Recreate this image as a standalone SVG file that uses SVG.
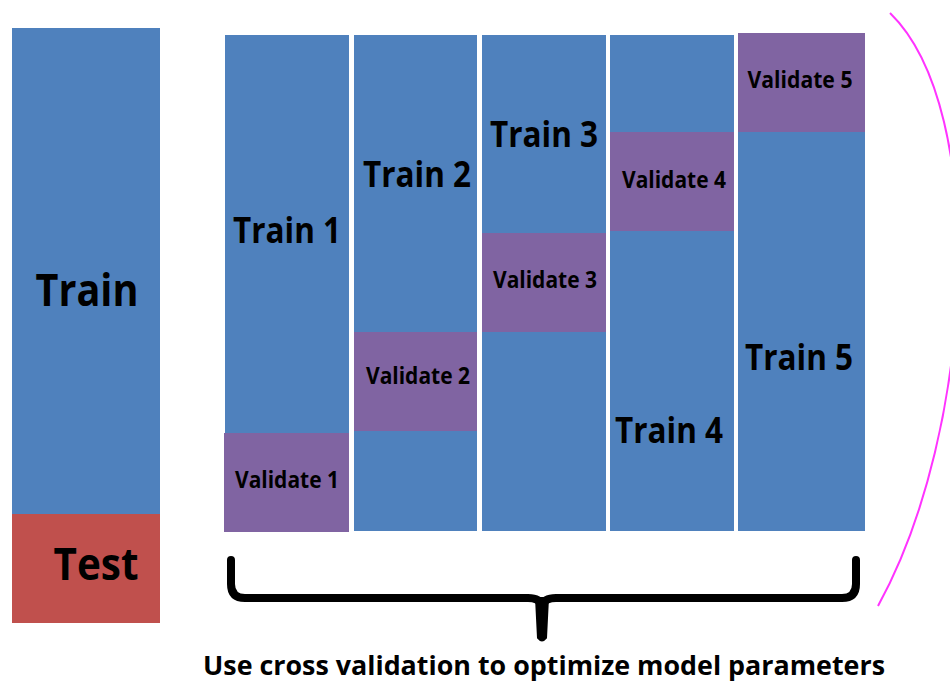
<svg xmlns="http://www.w3.org/2000/svg" width="950" height="683" viewBox="0 0 950 683">
  <style>
    .train { fill: #4F81BD; }
    .val { fill: #8064A2; }
    .test { fill: #C0504D; }
    text { font-family: "Open Sans", Lato, "Liberation Sans", sans-serif; font-weight: bold; fill: #000; text-anchor: middle; }
    .big { font-size: 44px; }
    .mid { font-size: 35px; }
    .small { font-size: 23px; }
    .cap { font-size: 27px; }
  </style>
  <rect width="950" height="683" fill="#ffffff"/>

  <!-- hold-out split -->
  <g id="holdout">
    <rect class="train" x="12" y="28" width="148" height="487"/>
    <rect class="test" x="12" y="514" width="148" height="109"/>
    <text class="big" x="87" y="306" textLength="103" lengthAdjust="spacingAndGlyphs">Train</text>
    <text class="big" x="96" y="580" textLength="85" lengthAdjust="spacingAndGlyphs">Test</text>
  </g>

  <!-- fold 1 -->
  <g id="fold1">
    <rect class="train" x="225" y="35" width="124" height="398"/>
    <rect class="val" x="224" y="433" width="125" height="99"/>
    <text class="mid" x="287" y="243" textLength="108" lengthAdjust="spacingAndGlyphs">Train 1</text>
    <text class="small" x="287" y="488" textLength="104" lengthAdjust="spacingAndGlyphs">Validate 1</text>
  </g>

  <!-- fold 2 -->
  <g id="fold2">
    <rect class="train" x="354" y="35" width="123" height="496"/>
    <rect class="val" x="354" y="332" width="123" height="99"/>
    <text class="mid" x="417" y="187" textLength="108" lengthAdjust="spacingAndGlyphs">Train 2</text>
    <text class="small" x="418" y="384" textLength="104" lengthAdjust="spacingAndGlyphs">Validate 2</text>
  </g>

  <!-- fold 3 -->
  <g id="fold3">
    <rect class="train" x="482" y="35" width="124" height="496"/>
    <rect class="val" x="482" y="233" width="124" height="99"/>
    <text class="mid" x="544" y="147" textLength="108" lengthAdjust="spacingAndGlyphs">Train 3</text>
    <text class="small" x="545" y="288" textLength="104" lengthAdjust="spacingAndGlyphs">Validate 3</text>
  </g>

  <!-- fold 4 -->
  <g id="fold4">
    <rect class="train" x="610" y="35" width="124" height="496"/>
    <rect class="val" x="610" y="132" width="124" height="99"/>
    <text class="mid" x="669" y="443" textLength="108" lengthAdjust="spacingAndGlyphs">Train 4</text>
    <text class="small" x="674" y="188" textLength="104" lengthAdjust="spacingAndGlyphs">Validate 4</text>
  </g>

  <!-- fold 5 -->
  <g id="fold5">
    <rect class="train" x="738" y="33" width="127" height="498"/>
    <rect class="val" x="738" y="33" width="127" height="99"/>
    <text class="mid" x="799" y="370" textLength="108" lengthAdjust="spacingAndGlyphs">Train 5</text>
    <text class="small" x="800" y="88" textLength="105" lengthAdjust="spacingAndGlyphs">Validate 5</text>
  </g>

  <!-- brace and arc -->
  <g id="connectors">
    <path d="M231,560 L231,584 Q231,598 245,598 L528,598 Q540,598 542,606 Q544,598 556,598 L842,598 Q856,598 856,584 L856,560" fill="none" stroke="#000" stroke-width="8" stroke-linecap="round" stroke-linejoin="round"/>
    <path d="M536,598 L548,598 L546,638 Q542,643 538,638 Z" fill="#000" stroke="#000" stroke-width="2" stroke-linejoin="round"/>
    <path d="M890,13 C990,110 975,430 878,606" fill="none" stroke="#FF33FF" stroke-width="2"/>
  </g>

  <g id="caption">
    <text class="cap" x="544" y="675" textLength="682" lengthAdjust="spacingAndGlyphs">Use cross validation to optimize model parameters</text>
  </g>
</svg>
